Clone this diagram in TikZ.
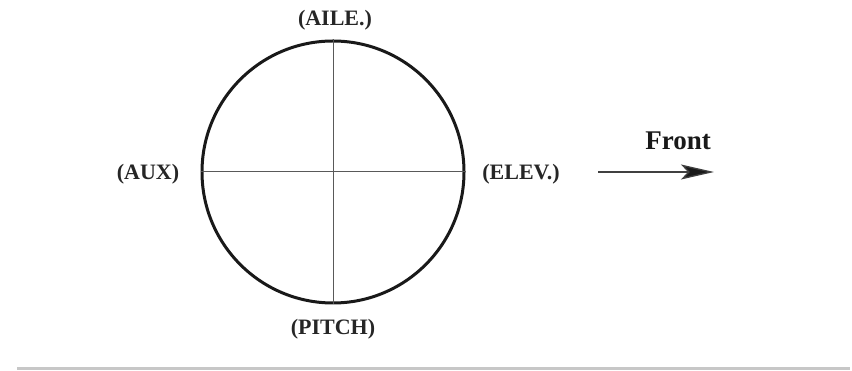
\documentclass[tikz,border=0pt]{standalone}
\usepackage{fontspec}
\setmainfont{Liberation Serif}
\usetikzlibrary{arrows.meta}
\begin{document}
\begin{tikzpicture}[x=1pt,y=-1pt,
  lbl/.style={font=\fontsize{22}{24}\selectfont\bfseries, inner sep=0pt, text=black!85},
  axisline/.style={draw=black!65, line width=1pt}]
\useasboundingbox (0,0) rectangle (852,371);
\node (c) [circle, draw=black!90, line width=3pt, minimum size=262pt, inner sep=0pt] at (333,172) {};
\draw[axisline] (c.north) -- (c.south);
\draw[axisline] (c.west) -- (c.east);
\node (aile) [lbl] at (335,20) {(AILE.)};
\node (aux) [lbl] at (148,174) {(AUX)};
\node (elev) [lbl] at (521,174) {(ELEV.)};
\node (pitch) [lbl] at (333,329) {(PITCH)};
\node (front) [font=\fontsize{27}{29}\selectfont\bfseries, inner sep=0pt, text=black!90] at (678,141) {Front};
\coordinate (a0) at (598,172);
\coordinate (a1) at (714,172);
\draw[draw=black!75, line width=1.3pt, -{Stealth[length=33pt, width=15pt, inset=7pt, fill=black!90]}] (a0) -- (a1);
\coordinate (g0) at (17,369);
\coordinate (g1) at (850,369);
\draw[draw=black!22, line width=3pt] (g0) -- (g1);
\end{tikzpicture}
\end{document}
